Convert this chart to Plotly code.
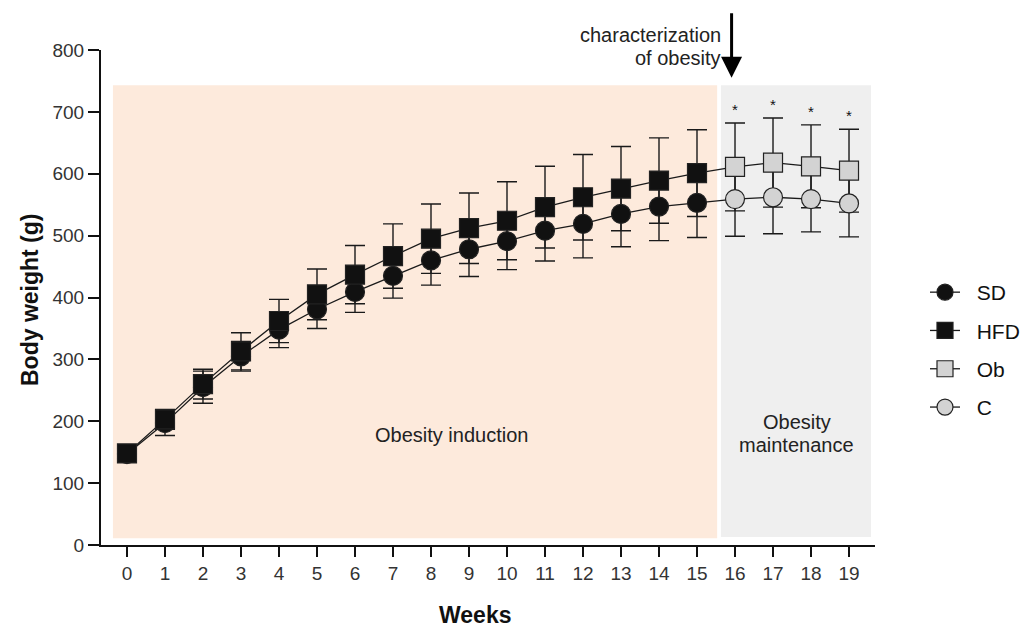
import plotly.graph_objects as go

# ---------------- data ----------------
weeks_induction = list(range(0, 16))
weeks_maintenance = [16, 17, 18, 19]

sd_mean = [147, 197, 255, 305, 348, 381, 409, 435, 460, 478, 491, 508, 519, 535, 547, 553]
sd_err = [8, 20, 26, 24, 29, 31, 33, 36, 40, 44, 46, 49, 55, 53, 55, 56]

hfd_mean = [148, 203, 260, 313, 362, 405, 437, 467, 495, 512, 524, 546, 562, 576, 589, 601]
hfd_err = [8, 16, 24, 30, 35, 41, 47, 52, 56, 57, 63, 66, 69, 68, 69, 70]

ob_mean = [611, 618, 612, 605]
ob_err = [71, 72, 67, 67]

c_mean = [559, 562, 559, 552]
c_err = [60, 59, 53, 54]

x_ticks = list(range(0, 20))
y_ticks = [0, 100, 200, 300, 400, 500, 600, 700, 800]

FONT = "Liberation Sans, Arial, Helvetica, sans-serif"
BLACK = "#111111"
GREY_MARK = "#d3d3d3"
LINE_C = "#1a1a1a"
NB = "\u00a0\u00a0"

fig = go.Figure()

# error bars first (drawn beneath all markers)
for xs, ys, es in [(weeks_induction, sd_mean, sd_err),
                   (weeks_induction, hfd_mean, hfd_err),
                   (weeks_maintenance, ob_mean, ob_err),
                   (weeks_maintenance, c_mean, c_err)]:
    fig.add_trace(go.Scatter(
        x=xs, y=ys, mode="markers",
        marker=dict(size=2, color="rgba(0,0,0,0)"),
        error_y=dict(type="data", array=es, visible=True, color=LINE_C,
                     thickness=1.4, width=10),
        showlegend=False, hoverinfo="skip"))

# connectors between the two phases
fig.add_trace(go.Scatter(x=[weeks_induction[-1], weeks_maintenance[0]],
                         y=[sd_mean[-1], c_mean[0]], mode="lines",
                         line=dict(color=LINE_C, width=1.3),
                         showlegend=False, hoverinfo="skip"))
fig.add_trace(go.Scatter(x=[weeks_induction[-1], weeks_maintenance[0]],
                         y=[hfd_mean[-1], ob_mean[0]], mode="lines",
                         line=dict(color=LINE_C, width=1.3),
                         showlegend=False, hoverinfo="skip"))

series = [
    ("SD", weeks_induction, sd_mean, "circle", BLACK),
    ("HFD", weeks_induction, hfd_mean, "square", BLACK),
    ("Ob", weeks_maintenance, ob_mean, "square", GREY_MARK),
    ("C", weeks_maintenance, c_mean, "circle", GREY_MARK),
]
for name, xs, ys, sym, col in series:
    fig.add_trace(go.Scatter(
        x=xs, y=ys, mode="lines+markers", name=NB + name, legendgroup=name,
        line=dict(color=LINE_C, width=1.3),
        marker=dict(symbol=sym, size=19, color=col,
                    line=dict(color="#222222", width=1.2))))

# significance stars above the Ob error bars
for w, m, e in zip(weeks_maintenance, ob_mean, ob_err):
    fig.add_annotation(x=w, y=m + e, xref="x", yref="y", text="*",
                       showarrow=False, yanchor="bottom", yshift=3,
                       font=dict(family=FONT, size=15, color="#111111"))

# shaded phases
fig.add_shape(type="rect", xref="x", yref="y", x0=-0.37, x1=15.53, y0=11, y1=743,
              fillcolor="#fdeadc", line=dict(width=0), layer="below")
fig.add_shape(type="rect", xref="x", yref="y", x0=15.63, x1=19.58, y0=13, y1=743,
              fillcolor="#efefef", line=dict(width=0), layer="below")

ann_font = dict(family=FONT, size=20, color="#222222")
fig.add_annotation(x=8.55, y=177, xref="x", yref="y", text="Obesity induction",
                   showarrow=False, font=ann_font)
fig.add_annotation(x=17.63, y=199, xref="x", yref="y", text="Obesity",
                   showarrow=False, font=ann_font)
fig.add_annotation(x=17.63, y=162, xref="x", yref="y", text="maintenance",
                   showarrow=False, font=ann_font)
fig.add_annotation(x=15.68, y=1.0303, xref="x", yref="paper", text="characterization",
                   showarrow=False, xanchor="right", yanchor="middle", font=ann_font)
fig.add_annotation(x=15.68, y=0.984, xref="x", yref="paper", text="of obesity",
                   showarrow=False, xanchor="right", yanchor="middle", font=ann_font)
fig.add_annotation(x=15.91, y=755, xref="x", yref="y", text="",
                   showarrow=True, ax=0, ay=-66, arrowhead=2, arrowsize=1.4,
                   arrowwidth=3, arrowcolor="#000000")

# axis titles
title_font = dict(family=FONT, size=23, color="#111111")
fig.add_annotation(x=0.483, y=-0.1717, xref="paper", yref="paper", text="<b>Weeks</b>",
                   showarrow=False, xanchor="center", yanchor="bottom", font=title_font)
fig.add_annotation(x=-0.0917, y=0.495, xref="paper", yref="paper",
                   text="<b>Body weight (g)</b>", textangle=-90,
                   xanchor="center", yanchor="middle",
                   showarrow=False, font=title_font)

fig.update_layout(
    width=1026, height=623,
    margin=dict(l=93, r=159, t=42, b=86, autoexpand=False),
    paper_bgcolor="white", plot_bgcolor="white",
    font=dict(family=FONT, size=19, color="#333333"),
    showlegend=True,
    legend=dict(x=1.0646, y=0.5515, xanchor="left", yanchor="top",
                font=dict(family=FONT, size=21, color="#111111"),
                tracegroupgap=8, bgcolor="rgba(0,0,0,0)"),
    xaxis=dict(range=[-0.684, 19.684], tickmode="array", tickvals=x_ticks,
               ticktext=[str(t) for t in x_ticks], automargin=False,
               showgrid=False, zeroline=False, showline=True, linecolor="#111111",
               linewidth=2, ticks="outside", ticklen=10, tickwidth=1.6,
               tickcolor="#111111", tickfont=dict(family=FONT, size=19, color="#333333")),
    yaxis=dict(range=[0, 800], tickmode="array", tickvals=y_ticks, automargin=False,
               showgrid=False, zeroline=False, showline=True, linecolor="#111111",
               linewidth=2, ticks="outside", ticklen=11, tickwidth=1.6,
               tickcolor="#111111", tickfont=dict(family=FONT, size=19, color="#333333")),
)

fig.write_html("out.html")
